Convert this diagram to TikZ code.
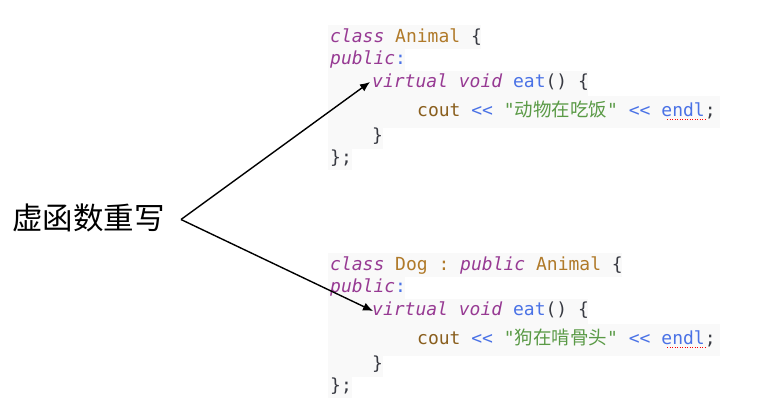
\documentclass[tikz,border=0pt]{standalone}
\usepackage{fontspec}
\setmonofont{DejaVu Sans Mono}
\newfontfamily\cjk{Noto Sans CJK SC}
\usetikzlibrary{arrows.meta}
\definecolor{kwc}{HTML}{973A93}
\definecolor{tyc}{HTML}{B07A2A}
\definecolor{vac}{HTML}{8A5F1E}
\definecolor{fnc}{HTML}{4A72E6}
\definecolor{stc}{HTML}{5A9A46}
\definecolor{plc}{HTML}{383A42}
\definecolor{bgc}{HTML}{F9F9F9}
\newcommand\cKw[1]{{\color{kwc}\itshape #1}}
\newcommand\cTy[1]{{\color{tyc}#1}}
\newcommand\cVa[1]{{\color{vac}#1}}
\newcommand\cFn[1]{{\color{fnc}#1}}
\newcommand\cSt[1]{{\color{stc}#1}}
\newcommand\cPl[1]{{\color{plc}#1}}
\newcommand\cCj[1]{{\cjk\fontsize{18.5}{20}\selectfont #1}}
\begin{document}
\begin{tikzpicture}[x=1pt,y=-1pt,
  code/.style={anchor=base west,inner sep=0pt,font=\ttfamily\fontsize{18}{20}\selectfont,text=plc},
  arr/.style={draw=black,line width=1.4pt,-{Latex[length=10pt,width=8.5pt]}},
  squig/.style={draw=red,line width=1pt,dash pattern=on 1pt off 1.5pt}]
\useasboundingbox (0,0) rectangle (768,410);
% background bands
\foreach \dy in {0,228}{
  \fill[bgc] (328,25+\dy) rectangle (481,49+\dy);
  \fill[bgc] (328,49+\dy) rectangle (405,71+\dy);
  \fill[bgc] (328,71+\dy) rectangle (588,96+\dy);
  \fill[bgc] (328,96+\dy) rectangle (720,128+\dy);
  \fill[bgc] (328,128+\dy) rectangle (383,149+\dy);
  \fill[bgc] (328,149+\dy) rectangle (352,170+\dy);
}
\fill[bgc] (481,253) rectangle (622,277);
% upper code
\node[code] (a1) at (330,42.5) {\cKw{class} \cTy{Animal} \cPl{\{}};
\node[code] (a2) at (330,64.5) {\cKw{public}\cFn{:}};
\node[code] (a3) at (372,87) {\cKw{virtual} \cKw{void} \cFn{eat}\cPl{() \{}};
\node[code] (a4) at (417,116.5) {\cVa{cout} \cFn{<<} \cSt{"\cCj{动物在吃饭}"} \cFn{<<} \cFn{endl}\cPl{;}};
\node[code] (a5) at (372,141) {\cPl{\}}};
\node[code] (a6) at (330,163.5) {\cPl{\};}};
% lower code
\node[code] (b1) at (330,270.5) {\cKw{class} \cTy{Dog} \cTy{:} \cKw{public} \cTy{Animal} \cPl{\{}};
\node[code] (b2) at (330,292.5) {\cKw{public}\cFn{:}};
\node[code] (b3) at (372,315) {\cKw{virtual} \cKw{void} \cFn{eat}\cPl{() \{}};
\node[code] (b4) at (417,344.5) {\cVa{cout} \cFn{<<} \cSt{"\cCj{狗在啃骨头}"} \cFn{<<} \cFn{endl}\cPl{;}};
\node[code] (b5) at (372,369) {\cPl{\}}};
\node[code] (b6) at (330,391.5) {\cPl{\};}};
% spell-check underlines
\coordinate (u1s) at (667,119.5); \coordinate (u1e) at (707,119.5);
\coordinate (u2s) at (667,347.5); \coordinate (u2e) at (707,347.5);
\draw[squig] (u1s) -- (u1e);
\draw[squig] (u2s) -- (u2e);
% label
\node[anchor=base west,inner sep=0pt,font=\cjk\fontsize{30.5}{32}\selectfont] (lbl) at (12,229) {虚函数重写};
% arrows
\coordinate (src) at (181,219.5);
\coordinate (t1) at (370,82);
\coordinate (t2) at (373,311);
\draw[arr] (src) -- (t1);
\draw[arr] (src) -- (t2);
\end{tikzpicture}
\end{document}
